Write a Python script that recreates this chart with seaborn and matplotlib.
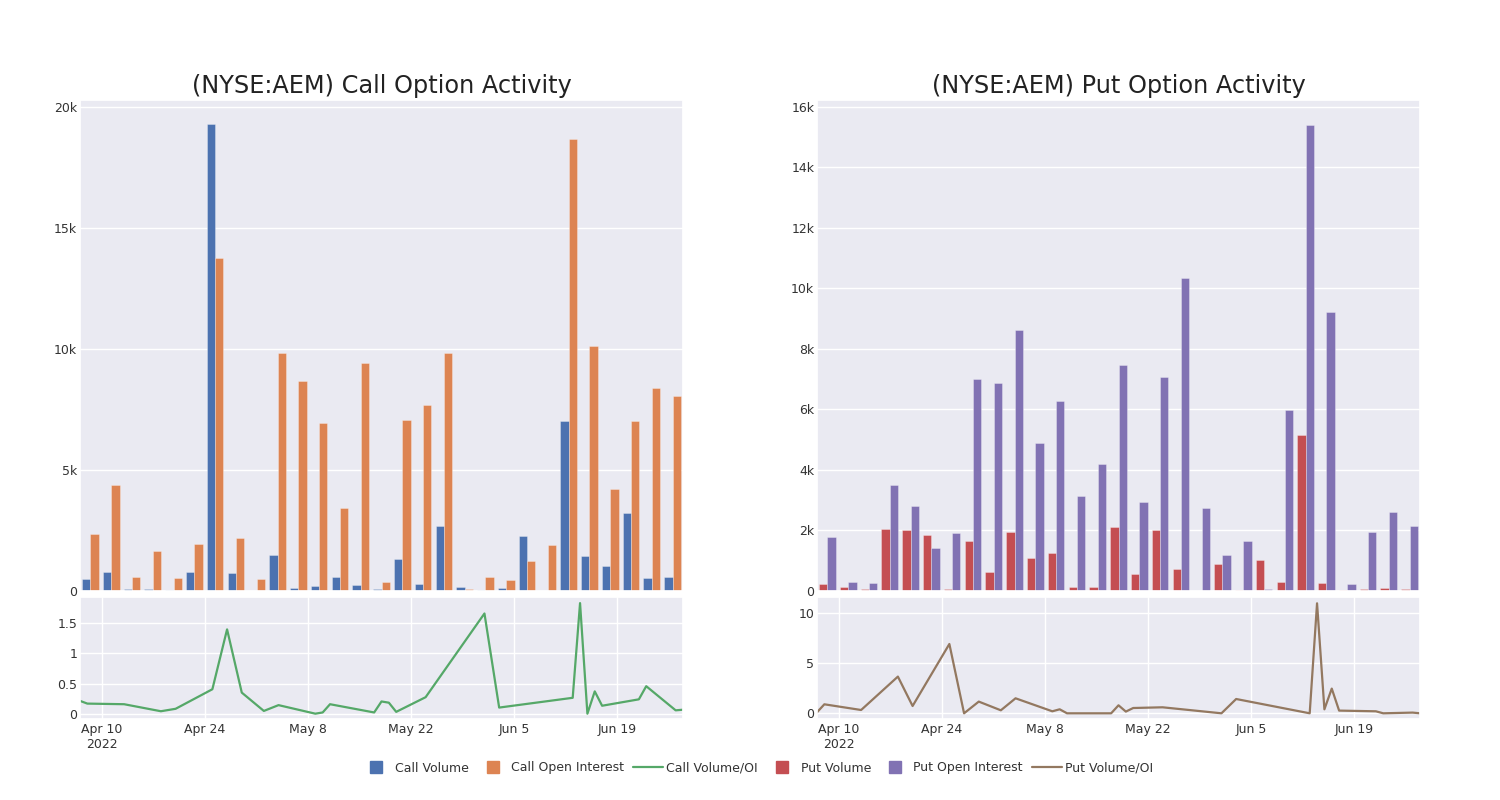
import matplotlib
matplotlib.use("Agg")
import matplotlib.pyplot as plt
import seaborn as sns
import pandas as pd
from matplotlib.ticker import FuncFormatter
from matplotlib.lines import Line2D

# ---------------- data ----------------
dates = pd.to_datetime([
    "2022-04-07", "2022-04-08", "2022-04-13", "2022-04-18", "2022-04-20",
    "2022-04-25", "2022-04-27", "2022-04-29", "2022-05-02", "2022-05-04",
    "2022-05-09", "2022-05-10", "2022-05-11", "2022-05-17", "2022-05-18",
    "2022-05-19", "2022-05-20", "2022-05-24", "2022-06-01", "2022-06-03",
    "2022-06-13", "2022-06-14", "2022-06-15", "2022-06-16", "2022-06-17",
    "2022-06-22", "2022-06-23", "2022-06-27", "2022-06-28",
])

call_volume = [500, 770, 80, 70, 40, 790, 19300, 760, 20, 1480,
               110, 220, 570, 260, 70, 1340, 290, 2690, 150, 55,
               110, 2290, 10, 7010, 1430, 1020, 3210, 550, 580]
call_oi = [2370, 4370, 590, 1660, 520, 1960, 13770, 2180, 480, 9860,
           8700, 6950, 3420, 9420, 360, 7060, 7700, 9850, 80, 590,
           460, 1240, 1890, 18690, 10120, 4210, 7030, 8390, 8080]
call_ratio = [0.22, 0.175, 0.165, 0.05, 0.09, 0.41, 1.39, 0.355, 0.055, 0.15,
              0.01, 0.03, 0.165, 0.03, 0.21, 0.19, 0.04, 0.28, 1.65, 0.11,
              0.27, 1.82, 0.01, 0.375, 0.14, 0.245, 0.46, 0.065, 0.075]

put_volume = [240, 140, 80, 2050, 2020, 1840, 80, 1660, 640, 1950,
              1080, 1270, 130, 120, 2120, 560, 2000, 720, 10, 900,
              40, 1010, 290, 5150, 250, 40, 80, 110, 70]
put_oi = [1790, 300, 260, 3500, 2820, 1420, 1920, 7010, 6880, 8630,
          4890, 6290, 3130, 4210, 7470, 2950, 7090, 10350, 2740, 1200,
          1660, 80, 5970, 15410, 9220, 230, 1940, 2610, 2140]
put_ratio = [0.1, 0.9, 0.33, 3.67, 0.73, 6.93, 0.0, 1.17, 0.3, 1.5,
             0.2, 0.4, 0.0, 0.0, 0.8, 0.17, 0.53, 0.6, 0.0, 1.43,
             0.0, 11.0, 0.4, 2.47, 0.27, 0.2, 0.0, 0.07, 0.0]

tick_dates = pd.to_datetime(["2022-04-10", "2022-04-24", "2022-05-08",
                             "2022-05-22", "2022-06-05", "2022-06-19"])
tick_labels = ["Apr 10\n2022", "Apr 24", "May 8", "May 22", "Jun 5", "Jun 19"]

titles = ["(NYSE:AEM) Call Option Activity", "(NYSE:AEM) Put Option Activity"]
series_names = ["Call Volume", "Call Open Interest", "Call Volume/OI",
                "Put Volume", "Put Open Interest", "Put Volume/OI"]

# ---------------- style ----------------
sns.set_theme(style="darkgrid")
plt.rcParams["font.family"] = ["DejaVu Sans"]

pal = sns.color_palette("deep")
c_blue, c_orange, c_green, c_red, c_purple, c_brown = pal[0], pal[1], pal[2], pal[3], pal[4], pal[5]

fig = plt.figure(figsize=(15, 8), dpi=100)

W, H = 1500, 800
def rect(x0, y0, x1, y1):
    return [x0 / W, 1 - y1 / H, (x1 - x0) / W, (y1 - y0) / H]

ax_ct = fig.add_axes(rect(80, 100, 683, 591))
ax_cb = fig.add_axes(rect(80, 597, 683, 719))
ax_pt = fig.add_axes(rect(817, 100, 1420, 591))
ax_pb = fig.add_axes(rect(817, 597, 1420, 719))

kfmt = FuncFormatter(lambda v, p: "0" if v == 0 else f"{v/1000:g}k")
gfmt = FuncFormatter(lambda v, p: f"{v:g}")

n = len(dates)
idx = list(range(n))

def bar_panel(ax, vol, oi, names, colors, ymax, yticks, title):
    df = pd.DataFrame({
        "idx": idx + idx,
        "value": list(vol) + list(oi),
        "series": [names[0]] * n + [names[1]] * n,
    })
    sns.barplot(data=df, x="idx", y="value", hue="series", hue_order=names,
                palette=colors, saturation=1, ax=ax, legend=False, width=0.8,
                errorbar=None, linewidth=0.6, edgecolor=(1, 1, 1, 0.35))
    ax.set_xlim(-0.5, n - 0.5)
    ax.set_xticks([0, 5, 10, 15, 20, 25])
    ax.set_xticklabels([])
    ax.set_ylim(0, ymax)
    ax.set_yticks(yticks)
    ax.yaxis.set_major_formatter(kfmt)
    ax.set_xlabel("")
    ax.set_ylabel("")
    ax.tick_params(axis="both", length=0, labelsize=9, pad=2, colors="#333333")
    ax.set_title(title, fontsize=17.3, pad=5, color="#222222")

def line_panel(ax, ratio, color, ylim, yticks):
    sns.lineplot(x=dates, y=ratio, ax=ax, color=color, linewidth=1.6)
    ax.set_xlim(dates[0], dates[-1])
    ax.set_ylim(*ylim)
    ax.set_yticks(yticks)
    ax.yaxis.set_major_formatter(gfmt)
    ax.set_xticks(tick_dates)
    ax.set_xticklabels(tick_labels)
    ax.set_xlabel("")
    ax.set_ylabel("")
    ax.tick_params(axis="both", length=0, labelsize=9, pad=2, colors="#333333")
    ax.tick_params(axis="x", pad=3)

bar_panel(ax_ct, call_volume, call_oi, series_names[0:2], [c_blue, c_orange],
          20300, [0, 5000, 10000, 15000, 20000], titles[0])
bar_panel(ax_pt, put_volume, put_oi, series_names[3:5], [c_red, c_purple],
          16230, list(range(0, 16001, 2000)), titles[1])
line_panel(ax_cb, call_ratio, c_green, (-0.077, 1.92), [0, 0.5, 1, 1.5])
line_panel(ax_pb, put_ratio, c_brown, (-0.57, 11.63), [0, 5, 10])

handles = [
    Line2D([], [], marker="s", linestyle="none", color=c_blue, markersize=9),
    Line2D([], [], marker="s", linestyle="none", color=c_orange, markersize=9),
    Line2D([], [], color=c_green, linewidth=1.6),
    Line2D([], [], marker="s", linestyle="none", color=c_red, markersize=9),
    Line2D([], [], marker="s", linestyle="none", color=c_purple, markersize=9),
    Line2D([], [], color=c_brown, linewidth=1.6),
]
leg = fig.legend(handles, series_names, loc="center", bbox_to_anchor=(0.505, 0.04),
                 ncol=6, frameon=False, fontsize=9, handlelength=2.4,
                 handletextpad=0.25, columnspacing=0.75)
for t in leg.get_texts():
    t.set_color("#333333")

fig.savefig("out.png", dpi=100)
